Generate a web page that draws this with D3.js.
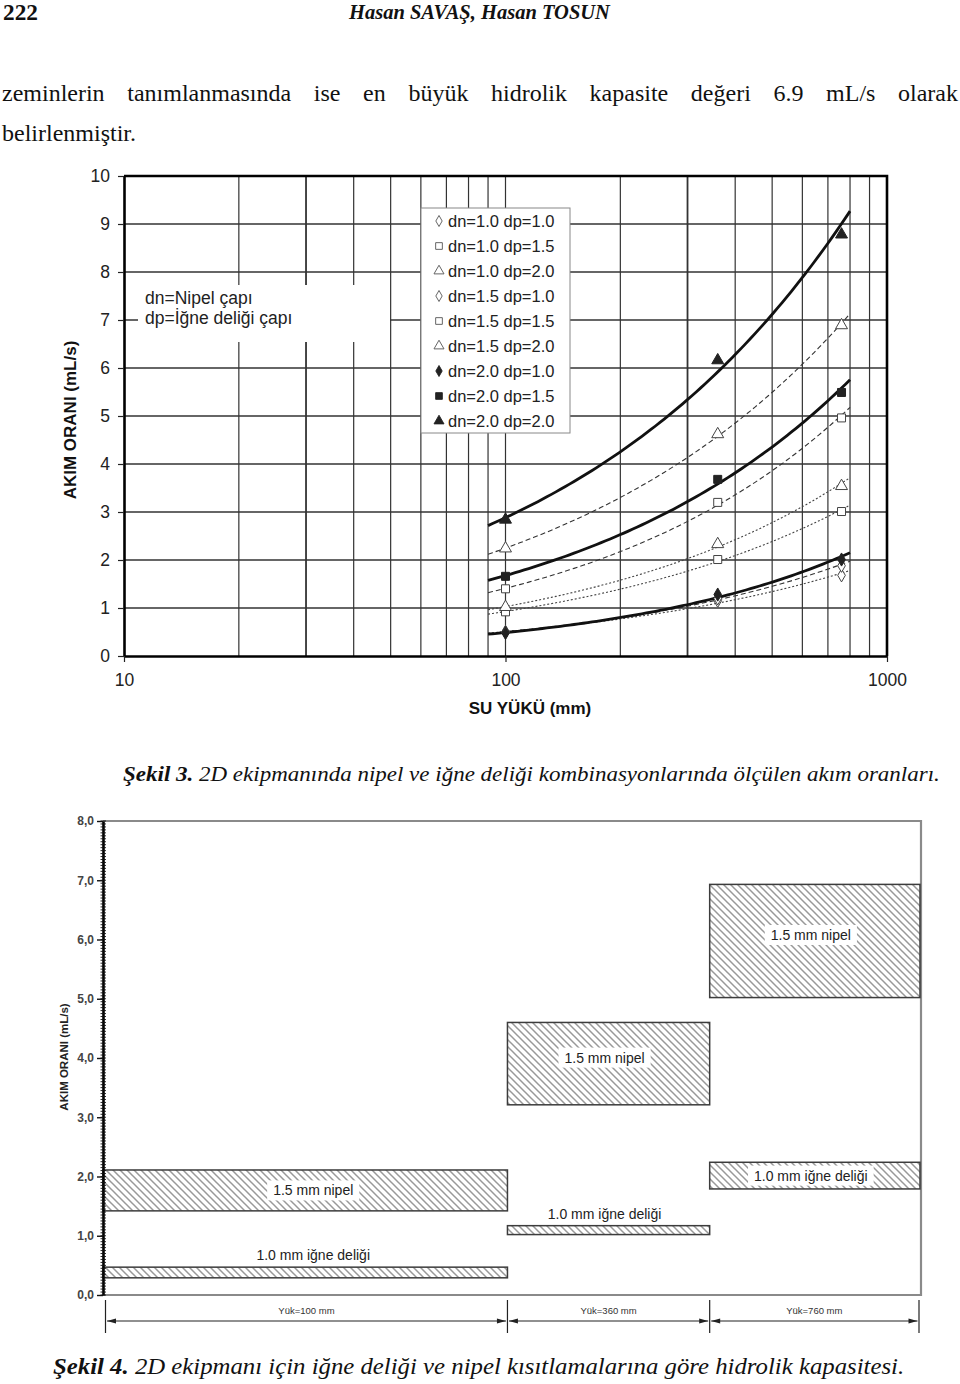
<!DOCTYPE html>
<html><head><meta charset="utf-8">
<script src="https://cdn.jsdelivr.net/npm/d3@7"></script>
<style>body{margin:0;background:#fff} svg{display:block}</style>
</head><body>
<svg id="page" width="960" height="1384"></svg>
<script>
// ================= DATA =================
const headerPageNo = "222";
const headerAuthors = "Hasan SAVAŞ, Hasan TOSUN";
const bodyLine1 = ["zeminlerin","tanımlanmasında","ise","en","büyük","hidrolik","kapasite","değeri","6.9","mL/s","olarak"];
const bodyLine2 = "belirlenmiştir.";

// Figure 3 (Şekil 3)
const fig3Loads = [100, 360, 760];
const fig3Series = ["dn=1.0 dp=1.0","dn=1.0 dp=1.5","dn=1.0 dp=2.0",
                    "dn=1.5 dp=1.0","dn=1.5 dp=1.5","dn=1.5 dp=2.0",
                    "dn=2.0 dp=1.0","dn=2.0 dp=1.5","dn=2.0 dp=2.0"];
const fig3Values = [
  [0.50, 1.15, 1.68],
  [0.92, 2.01, 3.01],
  [1.02, 2.33, 3.54],
  [0.50, 1.20, 1.88],
  [1.40, 3.20, 4.96],
  [2.24, 4.62, 6.89],
  [0.48, 1.28, 2.01],
  [1.66, 3.68, 5.49],
  [2.84, 6.16, 8.78]
];
const fig3TrendRange = [90, 800];
const fig3XTicks = [10, 100, 1000];
const fig3YTicks = [0,1,2,3,4,5,6,7,8,9,10];
const fig3XTitle = "SU YÜKÜ (mm)";
const fig3YTitle = "AKIM ORANI (mL/s)";
const fig3Notes = ["dn=Nipel çapı", "dp=İğne deliği çapı"];
const fig3CaptionBold = "Şekil 3.";
const fig3CaptionText = " 2D ekipmanında nipel ve iğne deliği kombinasyonlarında ölçülen akım oranları.";

// Figure 4 (Şekil 4)
const fig4Bands = ["Yük=100 mm", "Yük=360 mm", "Yük=760 mm"];
const fig4Nipel = [[1.42, 2.11], [3.21, 4.60], [5.02, 6.93]];
const fig4Igne  = [[0.29, 0.47], [1.02, 1.17], [1.79, 2.24]];
const fig4NipelLabel = "1.5 mm nipel";
const fig4IgneLabel = "1.0 mm iğne deliği";
const fig4YTicks = [0,1,2,3,4,5,6,7,8];
const fig4YTitle = "AKIM ORANI (mL/s)";
const fig4CaptionBold = "Şekil 4.";
const fig4CaptionText = " 2D ekipmanı için iğne deliği ve nipel kısıtlamalarına göre hidrolik kapasitesi.";

// ================= STYLE / LAYOUT =================
const serif = "'Liberation Serif','Times New Roman',serif";
const sans = "'Liberation Sans',Arial,sans-serif";
const shapeCycle = [d3.symbolDiamond, d3.symbolSquare, d3.symbolTriangle];
const shapeSize = [50, 64, 62];
const groupStyle = [ // by dn group
  {stroke:"#444", width:1.1, dash:"2,2", filled:false},
  {stroke:"#333", width:1.1, dash:"5,3", filled:false},
  {stroke:"#111", width:2.8, dash:null, filled:true}
];
const bandRatio = [2, 1, 1.04];

const svg = d3.select("#page");

function fitText(sel, x0, x1, y) {
  const w = sel.node().getComputedTextLength();
  sel.attr("x", 0).attr("y", 0)
     .attr("transform", `translate(${x0},${y}) scale(${(x1 - x0) / w},1)`);
}

// ================= HEADER & BODY =================
const pn = svg.append("text").attr("font-family", serif).attr("font-weight", "bold")
  .attr("font-size", 23).attr("fill", "#111").text(headerPageNo);
fitText(pn, 3, 38, 20);
const au = svg.append("text").attr("font-family", serif).attr("font-weight", "bold")
  .attr("font-style", "italic").attr("font-size", 20).attr("fill", "#111").text(headerAuthors);
fitText(au, 349, 610, 19);

(function justify() {
  const g = svg.append("g").attr("font-family", serif).attr("font-size", 24).attr("fill", "#111");
  const ws = g.selectAll("text").data(bodyLine1).join("text").attr("y", 101).text(d => d);
  const widths = ws.nodes().map(n => n.getComputedTextLength());
  const gap = (958 - 2 - d3.sum(widths)) / (bodyLine1.length - 1);
  let x = 2;
  ws.each(function(d, i) { d3.select(this).attr("x", x); x += widths[i] + gap; });
  g.append("text").attr("x", 2).attr("y", 141).text(bodyLine2);
})();

// ================= FIGURE 3 =================
const x3 = d3.scaleLog().domain([10, 1000]).range([124, 887]);
const y3 = d3.scaleLinear().domain([0, 10]).range([656, 176]);
const g3 = svg.append("g");

// grid
g3.append("g").selectAll("line")
  .data(x3.ticks().filter(v => v > 10 && v < 1000)).join("line")
  .attr("x1", d => x3(d)).attr("x2", d => x3(d))
  .attr("y1", y3(0)).attr("y2", y3(10))
  .attr("stroke", "#333").attr("stroke-width", d => (d === 30 || d === 300) ? 1.8 : 1.2);
g3.append("g").selectAll("line")
  .data(fig3YTicks.filter(v => v > 0 && v < 10)).join("line")
  .attr("x1", x3(10)).attr("x2", x3(1000))
  .attr("y1", d => y3(d)).attr("y2", d => y3(d))
  .attr("stroke", "#333").attr("stroke-width", 1.3);

// notes box
g3.append("rect").attr("x", 138).attr("y", 285).attr("width", 252).attr("height", 57).attr("fill", "#fff");
g3.append("g").attr("font-family", sans).attr("font-size", 17.5).attr("fill", "#222")
  .selectAll("text").data(fig3Notes).join("text")
  .attr("x", 145).attr("y", (d, i) => 304 + i * 20).text(d => d);

// legend
const lg = g3.append("g").attr("transform", "translate(421,208)");
lg.append("rect").attr("width", 149).attr("height", 225).attr("fill", "#fff")
  .attr("stroke", "#888").attr("stroke-width", 1);
const li = lg.selectAll("g.it").data(fig3Series).join("g").attr("class", "it")
  .attr("transform", (d, i) => `translate(0,${13 + i * 25})`);
li.append("path")
  .attr("d", (d, i) => d3.symbol().type(shapeCycle[i % 3]).size(shapeSize[i % 3] * 0.7)())
  .attr("transform", "translate(18,0)")
  .attr("fill", (d, i) => groupStyle[Math.floor(i / 3)].filled ? "#222" : "#fff")
  .attr("stroke", (d, i) => groupStyle[Math.floor(i / 3)].filled ? "#222" : "#555")
  .attr("stroke-width", 0.9);
li.append("text").attr("x", 27).attr("y", 6).attr("font-family", sans)
  .attr("font-size", 16.5).attr("fill", "#222").text(d => d);

// trend lines (power-law least-squares fit of each series, like a spreadsheet trendline)
function powerFit(xs, ys) {
  const lx = xs.map(Math.log), ly = ys.map(Math.log);
  const mx = d3.mean(lx), my = d3.mean(ly);
  const b = d3.sum(lx, (v, i) => (v - mx) * (ly[i] - my)) / d3.sum(lx, v => (v - mx) ** 2);
  const a = Math.exp(my - b * mx);
  return x => a * Math.pow(x, b);
}
const sampleX = d3.range(0, 81).map(k => fig3TrendRange[0] * Math.pow(fig3TrendRange[1] / fig3TrendRange[0], k / 80));
const line3 = d3.line().x(d => x3(d[0])).y(d => y3(d[1]));
const series = fig3Series.map((name, i) => ({name, i, grp: Math.floor(i / 3), vals: fig3Values[i]}));
g3.append("g").selectAll("path").data(series).join("path")
  .attr("d", s => { const f = powerFit(fig3Loads, s.vals); return line3(sampleX.map(x => [x, f(x)])); })
  .attr("fill", "none")
  .attr("stroke", s => groupStyle[s.grp].stroke)
  .attr("stroke-width", s => groupStyle[s.grp].width)
  .attr("stroke-dasharray", s => groupStyle[s.grp].dash);

// markers
const mk = g3.append("g");
series.forEach(s => {
  mk.selectAll(null).data(s.vals).join("path")
    .attr("d", d3.symbol().type(shapeCycle[s.i % 3]).size(shapeSize[s.i % 3])())
    .attr("transform", (v, j) => `translate(${x3(fig3Loads[j])},${y3(v)})`)
    .attr("fill", groupStyle[s.grp].filled ? "#222" : "#fff")
    .attr("stroke", groupStyle[s.grp].filled ? "#222" : "#444")
    .attr("stroke-width", 1);
});

// axes
const ax3y = g3.append("g").attr("transform", `translate(${x3(10)},0)`)
  .call(d3.axisLeft(y3).tickValues(fig3YTicks).tickSize(6).tickSizeOuter(0).tickPadding(8));
const ax3x = g3.append("g").attr("transform", `translate(0,${y3(0)})`)
  .call(d3.axisBottom(x3).tickValues(fig3XTicks).tickFormat(d3.format("d")).tickSize(6).tickSizeOuter(0).tickPadding(12));
[ax3y, ax3x].forEach(a => {
  a.select(".domain").attr("stroke", "#000").attr("stroke-width", 2.6);
  a.selectAll(".tick line").attr("stroke", "#222").attr("stroke-width", 1.2);
  a.selectAll("text").attr("font-family", sans).attr("font-size", 17.5).attr("fill", "#222");
});
g3.append("path")
  .attr("d", `M${x3(10)},${y3(10)}H${x3(1000)}V${y3(0)}`)
  .attr("fill", "none").attr("stroke", "#000").attr("stroke-width", 2.6);
g3.append("text").attr("x", 530).attr("y", 714).attr("text-anchor", "middle")
  .attr("font-family", sans).attr("font-weight", "bold").attr("font-size", 17).attr("fill", "#111")
  .text(fig3XTitle);
g3.append("text").attr("transform", "translate(76,420) rotate(-90)").attr("text-anchor", "middle")
  .attr("font-family", sans).attr("font-weight", "bold").attr("font-size", 17).attr("fill", "#111")
  .text(fig3YTitle);

// caption 3
const c3 = svg.append("text").attr("font-family", serif).attr("font-style", "italic")
  .attr("font-size", 22).attr("fill", "#111");
c3.append("tspan").attr("font-weight", "bold").text(fig3CaptionBold);
c3.append("tspan").text(fig3CaptionText);
fitText(c3, 123, 940, 781);

// ================= FIGURE 4 =================
const y4 = d3.scaleLinear().domain([0, 8]).range([1295, 821]);
const edges = [0, ...d3.cumsum(bandRatio)];
const x4 = d3.scaleLinear().domain([0, d3.sum(bandRatio)]).range([103, 920]);
const g4 = svg.append("g");

const defs = svg.append("defs");
const pat = defs.append("pattern").attr("id", "hatch").attr("patternUnits", "userSpaceOnUse")
  .attr("width", 7).attr("height", 7);
pat.append("rect").attr("width", 7).attr("height", 7).attr("fill", "#fff");
pat.append("path").attr("d", "M-1,-1L8,8M-4,3L4,11M3,-4L11,4")
  .attr("stroke", "#999").attr("stroke-width", 1.5);

// frame
g4.append("path").attr("d", `M${x4(0)},${y4(8)}H${x4.range()[1] + 1}V${y4(0)}H${x4(0)}`)
  .attr("fill", "none").attr("stroke", "#8a8a8a").attr("stroke-width", 2.2);

const boxes = [];
fig4Bands.forEach((b, i) => {
  boxes.push({i, kind: "nipel", r: fig4Nipel[i], label: fig4NipelLabel});
  boxes.push({i, kind: "igne", r: fig4Igne[i], label: fig4IgneLabel});
});
g4.append("g").selectAll("rect").data(boxes).join("rect")
  .attr("x", d => x4(edges[d.i])).attr("width", d => x4(edges[d.i + 1]) - x4(edges[d.i]))
  .attr("y", d => y4(d.r[1])).attr("height", d => y4(d.r[0]) - y4(d.r[1]))
  .attr("fill", "url(#hatch)").attr("stroke", "#3c3c3c").attr("stroke-width", 1.5);

// labels
const lab = g4.append("g").attr("font-family", sans).attr("font-size", 14).attr("fill", "#222");
boxes.forEach(d => {
  const cx = (x4(edges[d.i]) + x4(edges[d.i + 1])) / 2 + (d.i === 0 ? 8 : -4);
  const top = y4(d.r[1]), bot = y4(d.r[0]);
  const inside = (bot - top) > 20;
  const cy = inside ? (top + bot) / 2 - (bot - top > 80 ? 6 : 0) : top - 12;
  const t = lab.append("text").attr("x", cx).attr("y", cy + 5).attr("text-anchor", "middle").text(d.label);
  if (inside) {
    const w = t.node().getComputedTextLength();
    lab.insert("rect", () => t.node()).attr("x", cx - w / 2 - 6).attr("y", cy - 10)
      .attr("width", w + 12).attr("height", 20).attr("fill", "#fff");
  }
});

// y axis
const ax4 = g4.append("g").attr("transform", `translate(${x4(0)},0)`)
  .call(d3.axisLeft(y4).tickValues(fig4YTicks).tickFormat(d => d.toFixed(1).replace(".", ","))
    .tickSize(6).tickSizeOuter(0).tickPadding(3));
ax4.select(".domain").attr("stroke", "#000").attr("stroke-width", 2.6);
ax4.selectAll(".tick line").attr("stroke", "#111").attr("stroke-width", 1.4);
ax4.selectAll("text").attr("font-family", sans).attr("font-weight", "bold")
  .attr("font-size", 12).attr("fill", "#444");
g4.append("g").selectAll("line").data(d3.range(0, 161).map(k => k * 0.05)).join("line")
  .attr("x1", x4(0) - 2.5).attr("x2", x4(0) + 3)
  .attr("y1", d => y4(d)).attr("y2", d => y4(d))
  .attr("stroke", "#111").attr("stroke-width", 0.9);
g4.append("text").attr("transform", "translate(68,1057) rotate(-90)").attr("text-anchor", "middle")
  .attr("font-family", sans).attr("font-weight", "bold").attr("font-size", 11.5).attr("fill", "#222")
  .text(fig4YTitle);

// dimension lines
const dim = g4.append("g");
const edgePx = edges.map((e, k) => k === 0 ? x4(e) + 2.5 : x4(e) - (k === edges.length - 1 ? 1 : 0));
dim.selectAll("line.v").data(edgePx).join("line").attr("class", "v")
  .attr("x1", d => d).attr("x2", d => d).attr("y1", 1300).attr("y2", 1333)
  .attr("stroke", "#222").attr("stroke-width", 1.2);
fig4Bands.forEach((b, i) => {
  const a = edgePx[i] + 1.5, c = edgePx[i + 1] - 1.5, yy = 1321;
  dim.append("line").attr("x1", a).attr("x2", c).attr("y1", yy).attr("y2", yy)
    .attr("stroke", "#222").attr("stroke-width", 1.2);
  dim.append("path").attr("d", `M${a},${yy}L${a + 9},${yy - 2.5}L${a + 9},${yy + 2.5}Z`).attr("fill", "#222");
  dim.append("path").attr("d", `M${c},${yy}L${c - 9},${yy - 2.5}L${c - 9},${yy + 2.5}Z`).attr("fill", "#222");
  dim.append("text").attr("x", (edgePx[i] + edgePx[i + 1]) / 2).attr("y", 1314)
    .attr("text-anchor", "middle").attr("font-family", sans).attr("font-size", 9.5)
    .attr("fill", "#333").text(b);
});

// caption 4
const c4 = svg.append("text").attr("font-family", serif).attr("font-style", "italic")
  .attr("font-size", 24).attr("fill", "#111");
c4.append("tspan").attr("font-weight", "bold").text(fig4CaptionBold);
c4.append("tspan").text(fig4CaptionText);
fitText(c4, 53, 905, 1374);
</script>
</body></html>
